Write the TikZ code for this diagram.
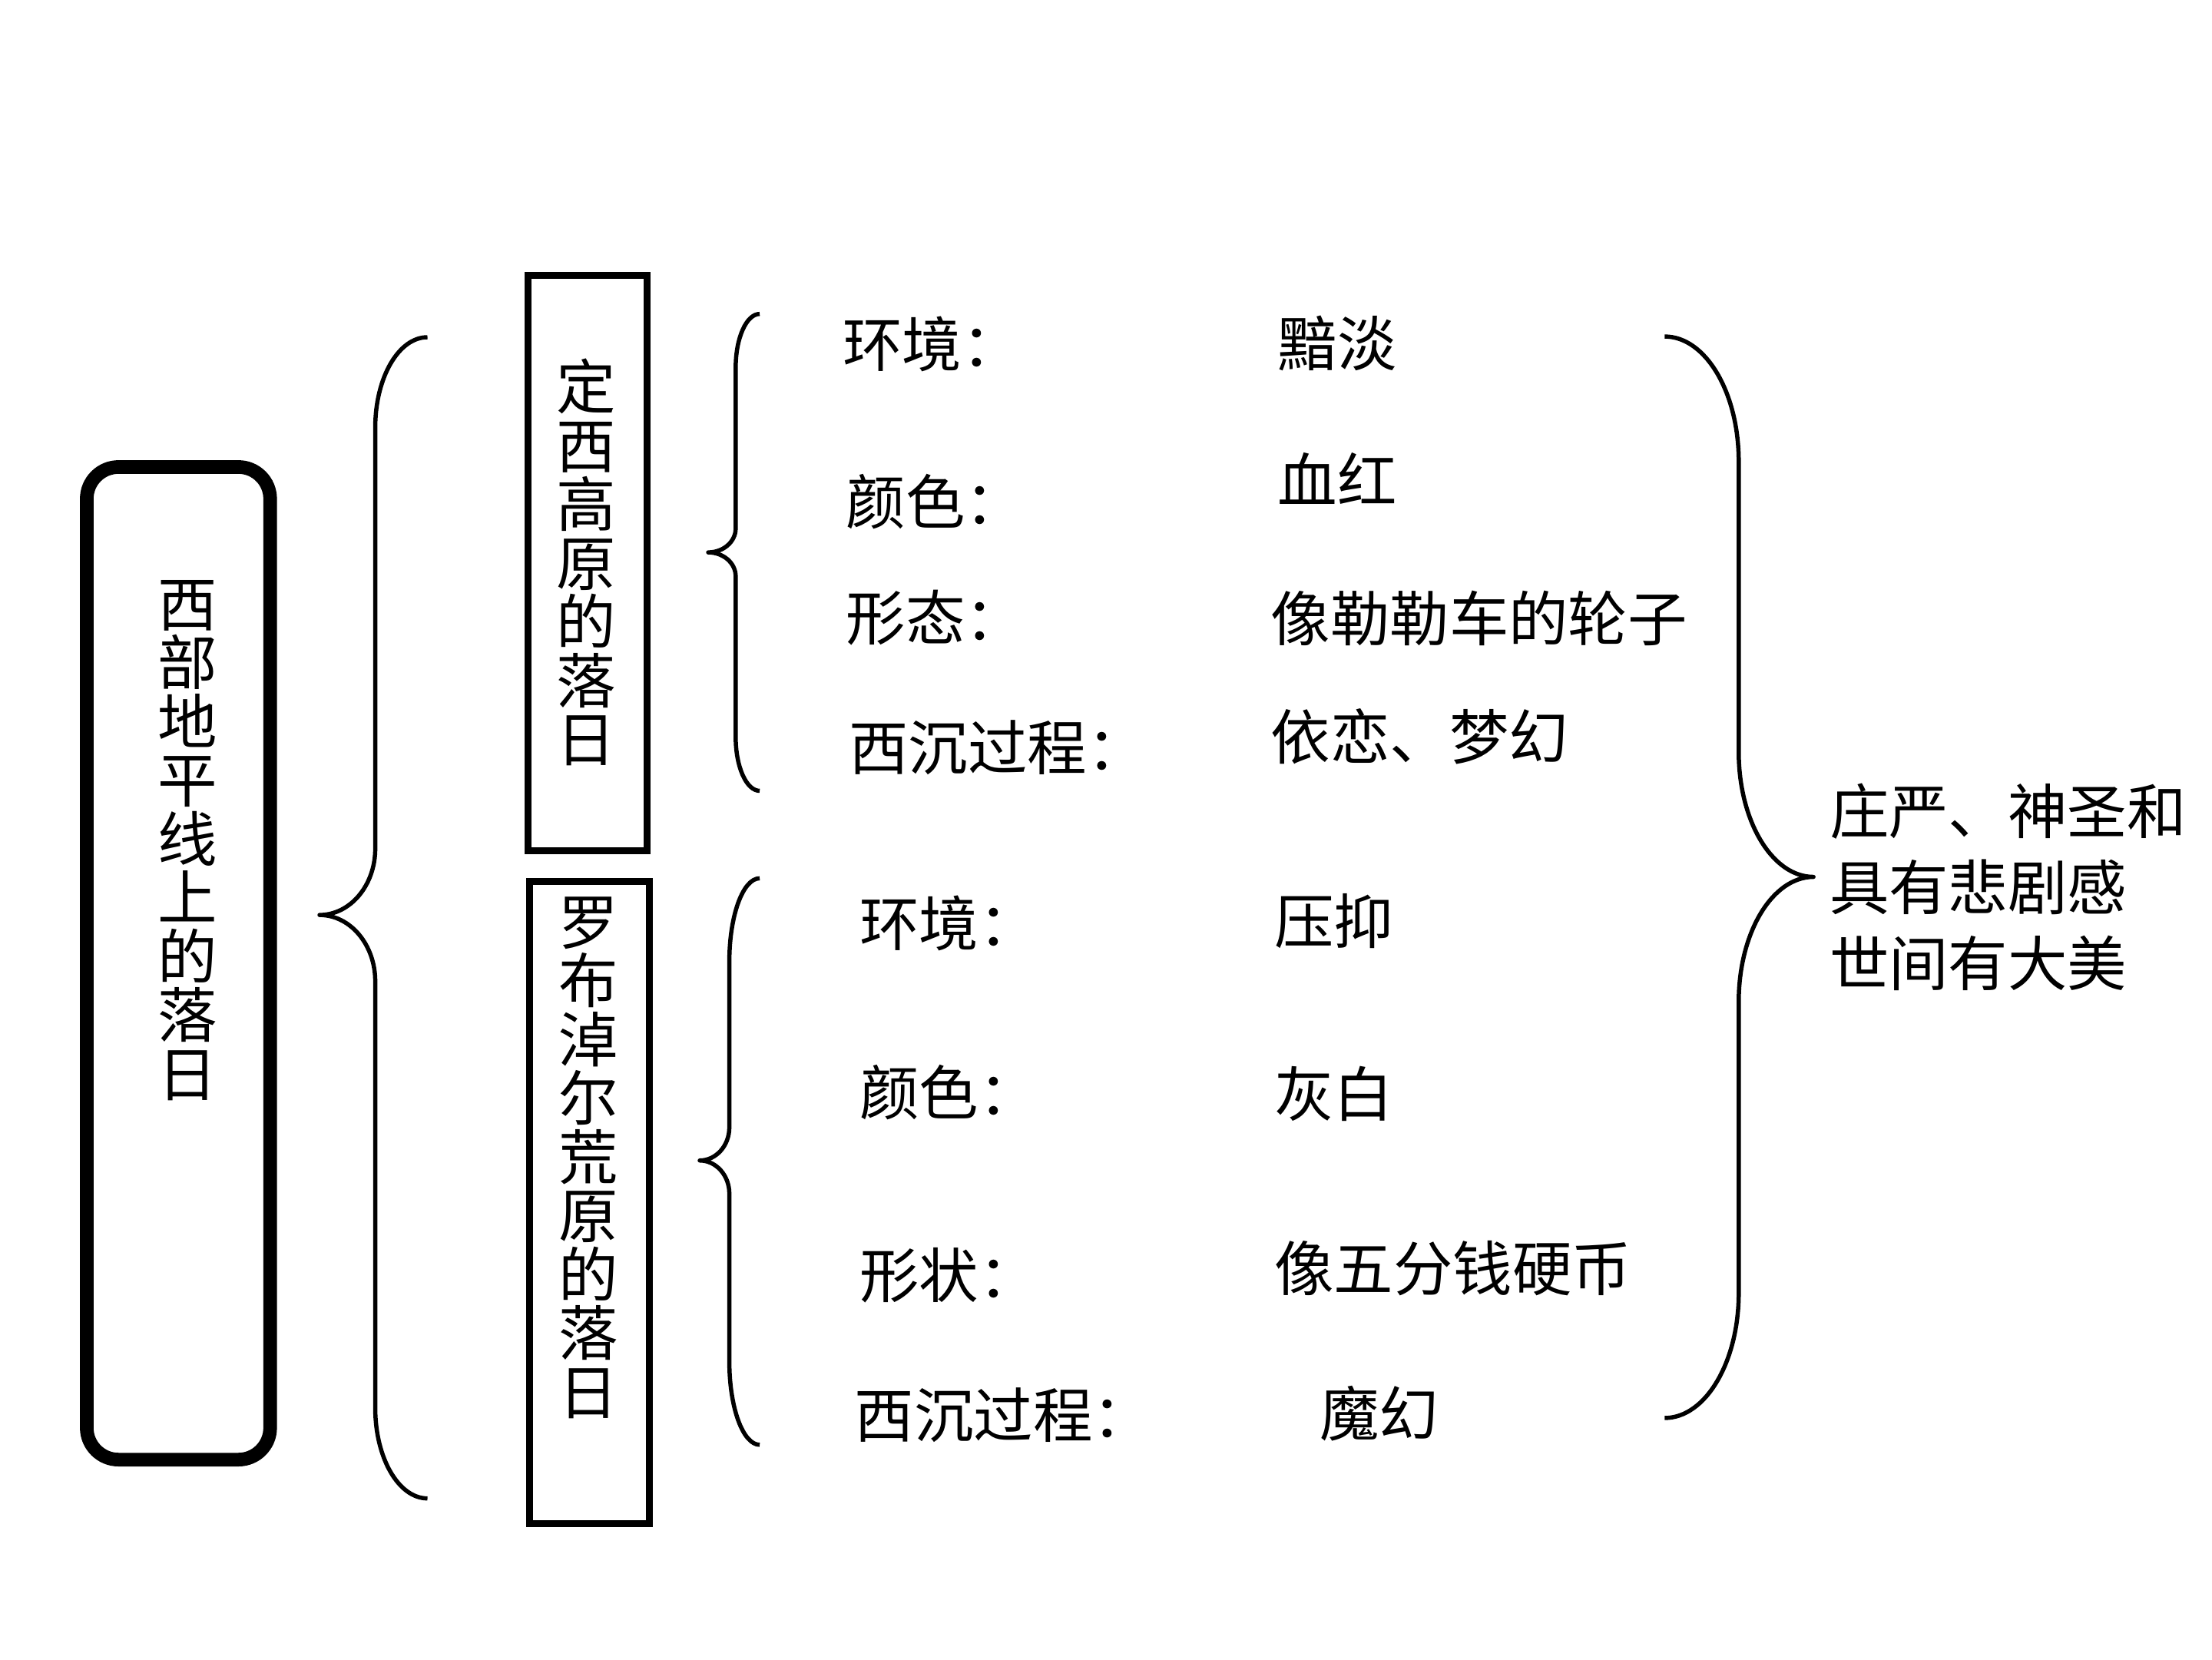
\documentclass[tikz,border=0pt]{standalone}
\usepackage{fontspec}
\setmainfont{Noto Sans CJK SC}

\newcommand{\curlybrace}[8]{%
  \draw[braceline] (#1,#4) .. controls ({#2+0.448*(#1-#2)},#4) and (#2,{#4+0.448*#7}) .. (#2,{#4+#7})
    -- (#2,{#5-#8}) .. controls (#2,{#5-0.448*#8}) and ({#3+0.552*(#2-#3)},#5) .. (#3,#5)
    .. controls ({#3+0.552*(#2-#3)},#5) and (#2,{#5+0.448*#8}) .. (#2,{#5+#8})
    -- (#2,{#6-#7}) .. controls (#2,{#6-0.448*#7}) and ({#2+0.448*(#1-#2)},#6) .. (#1,#6);}

\begin{document}
\begin{tikzpicture}[
    x=0.2mm, y=-0.2mm,
    every node/.style={inner sep=0pt, font=\fontsize{24}{23.7}\selectfont},
    outerframe/.style={draw, line width=5.5pt, rounded corners=4.5mm},
    frame/.style={draw, line width=2.8pt},
    vtext/.style={align=center},
    item/.style={anchor=west},
    braceline/.style={line width=1.7pt, line join=round}
]
\useasboundingbox (0,0) rectangle (1568,1176);

\node[outerframe, minimum width=26mm, minimum height=140.7mm] (outer) at (126.5,682.75) {};
\node[frame, minimum width=16.8mm, minimum height=81.6mm] (box1) at (416.5,399) {};
\node[frame, minimum width=17mm, minimum height=91mm] (box2) at (418,852.5) {};

\node[vtext] (title) at (133,595.5) {西\\部\\地\\平\\线\\上\\的\\落\\日};
\node[vtext] (dingxi) at (415.5,398.5) {定\\西\\高\\原\\的\\落\\日};
\node[vtext] (luobu) at (417,820.5) {罗\\布\\淖\\尔\\荒\\原\\的\\落\\日};

\node[item] (env1) at (597,244) {环境：};
\node[item] (col1) at (599.5,355.7) {颜色：};
\node[item] (form1) at (599.5,438) {形态：};
\node[item] (sink1) at (601.5,530) {西沉过程：};
\node[item] (env1v) at (905.5,243.4) {黯淡};
\node[item] (col1v) at (905.5,339.4) {血红};
\node[item] (form1v) at (900.5,438) {像勒勒车的轮子};
\node[item] (sink1v) at (900.5,522) {依恋、梦幻};

\node[item] (env2) at (609,654.5) {环境：};
\node[item] (col2) at (609,774) {颜色：};
\node[item] (form2) at (609,904) {形状：};
\node[item] (sink2) at (605.5,1003) {西沉过程：};
\node[item] (env2v) at (903,653) {压抑};
\node[item] (col2v) at (903,775) {灰白};
\node[item] (form2v) at (903,899) {像五分钱硬币};
\node[item] (sink2v) at (935,1002) {魔幻};

\node[item, align=left, font=\fontsize{24}{30.6}\selectfont] (verdict) at (1296.5,628.6) {庄严、神圣和\\具有悲剧感\\世间有大美};

\curlybrace{303}{266}{226.5}{239}{648.5}{1062}{64}{47}
\curlybrace{538.5}{521.5}{502}{222.5}{391.5}{560.5}{38}{17}
\curlybrace{538.5}{517}{496}{622.5}{822.5}{1024}{59}{23.5}
\curlybrace{1180}{1232.5}{1285.5}{238.5}{621.5}{1005}{88.5}{88.5}
\end{tikzpicture}
\end{document}
